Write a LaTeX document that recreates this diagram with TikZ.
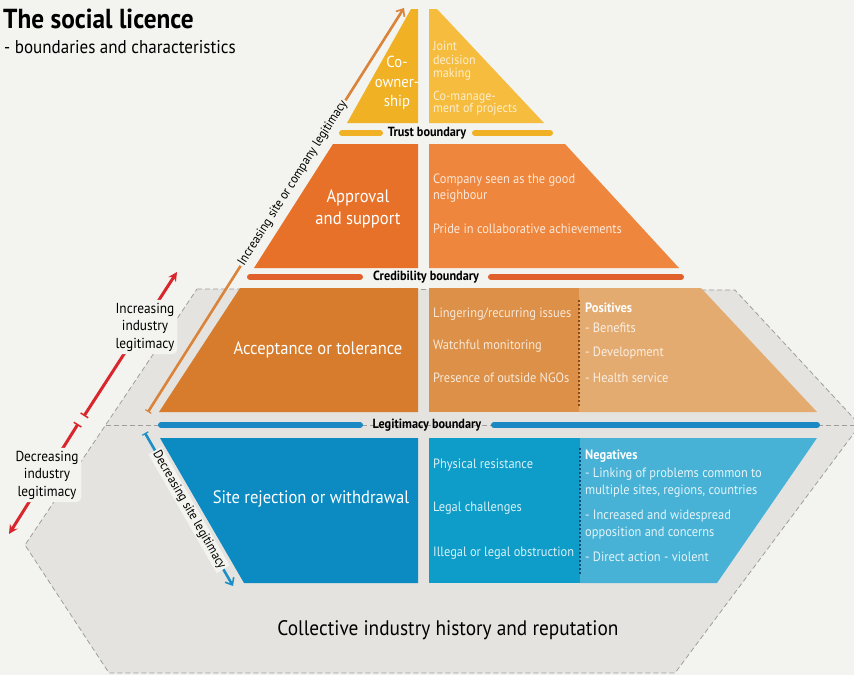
\documentclass[tikz,border=0pt]{standalone}
\usepackage{fontspec}
\setmainfont{PT Sans}[FakeStretch=0.92]
\usetikzlibrary{arrows.meta}
\definecolor{bg}{HTML}{F3F3EF}
\definecolor{hexfill}{HTML}{E4E3DF}
\definecolor{hexline}{HTML}{9E9E9A}
\definecolor{ra}{HTML}{F0B124}
\definecolor{rb}{HTML}{F5BC3E}
\definecolor{sa}{HTML}{E8712A}
\definecolor{sb}{HTML}{EE873D}
\definecolor{ta}{HTML}{D77C2C}
\definecolor{tb}{HTML}{DD9047}
\definecolor{tc}{HTML}{E4AB70}
\definecolor{ua}{HTML}{0B8BC2}
\definecolor{ub}{HTML}{0D9DC8}
\definecolor{uc}{HTML}{48B2D6}
\definecolor{credc}{HTML}{E0612C}
\definecolor{legc}{HTML}{1A88C2}
\definecolor{redarrow}{HTML}{D9262C}
\definecolor{siteup}{HTML}{D9843A}
\definecolor{sitedown}{HTML}{1C8FC6}
\definecolor{dotbrown}{HTML}{8A4A1A}
\definecolor{dotblue}{HTML}{0B4F7A}
\tikzset{
  bigl/.style={text=white, font=\fontsize{18}{22}\selectfont, align=center, inner sep=0pt},
  lbl/.style={anchor=west, inner sep=0pt, font=\fontsize{13.5}{16}\selectfont},
  lblb/.style={anchor=west, inner sep=0pt, font=\bfseries\fontsize{13.5}{16}\selectfont},
  bline/.style={line width=6pt, line cap=round},
  btext/.style={font=\bfseries\fontsize{13.3}{15}\selectfont, inner sep=0pt},
  hexdash/.style={draw=hexline, line width=0.8pt, dash pattern=on 5pt off 3pt},
  sidetext/.style={font=\fontsize{14.5}{17.5}\selectfont, align=center, fill=bg, rounded corners=6pt, inner sep=3pt},
  alongtext/.style={font=\fontsize{13}{15}\selectfont, fill=bg, inner sep=1.5pt},
  dotline/.style={line width=1.2pt, dash pattern=on 2pt off 2pt}
}
\begin{document}
\begin{tikzpicture}[x=1pt,y=-1pt]
\useasboundingbox (0,0) rectangle (854,675);
\clip (0,0) rectangle (854,675);
\fill[bg] (0,0) rectangle (854,675);

% title
\node[anchor=base west, inner sep=0pt, font=\bfseries\fontsize{27.5}{30}\selectfont] (title) at (3,28) {The social licence};
\node[anchor=base west, inner sep=0pt, font=\fontsize{18.5}{20}\selectfont] (subtitle) at (4,53) {- boundaries and characteristics};

% hexagonal base
\fill[hexfill] (197,289) -- (735,290) -- (860,425) -- (675,673) -- (109,673) -- (25,545) -- cycle;
\draw[hexdash] (197,289) -- (735,290) -- (860,425) -- (675,673) -- (109,673) -- (25,545) -- cycle;
\draw[hexdash] (106,425) -- (860,425);

% industry legitimacy arrows
\coordinate (iu0) at (84,416);
\coordinate (iu1) at (177,272);
\coordinate (id0) at (78,424);
\coordinate (id1) at (9,534);
\draw[redarrow, line width=3pt, {Bar[width=9pt,line width=1.5pt]}-{Stealth[length=9pt,width=9pt]}] (iu0) -- (iu1);
\draw[redarrow, line width=3pt, {Bar[width=9pt,line width=1.5pt]}-{Stealth[length=9pt,width=9pt]}] (id0) -- (id1);
\node[sidetext] (incind) at (145,327) {Increasing\\industry\\legitimacy};
\node[sidetext] (decind) at (47,475) {Decreasing\\industry\\legitimacy};

% site legitimacy arrows
\coordinate (su0) at (148,412);
\coordinate (su1) at (404,8);
\coordinate (sd0) at (145,433);
\coordinate (sd1) at (233,586);
\draw[siteup, line width=2.6pt, {Bar[width=7pt,line width=1.2pt]}-{Straight Barb[length=6pt,width=10pt,line width=1.6pt]}] (su0) -- (su1);
\draw[sitedown, line width=2.6pt, {Bar[width=7pt,line width=1.2pt]}-{Straight Barb[length=6pt,width=10pt,line width=1.6pt]}] (sd0) -- (sd1);
\node[alongtext, rotate=57.6] (incsite) at (293,183) {Increasing site or company legitimacy};
\node[alongtext, rotate=-60.1] (decsite) at (189,510) {Decreasing site legitimacy};

% row 1
\fill[ra] (411,9) -- (418,9) -- (418,123) -- (347,123) -- cycle;
\fill[rb] (429,9) -- (437,9) -- (544,123) -- (429,123) -- cycle;
\node[text=white, font=\fontsize{16}{19.5}\selectfont, align=center, inner sep=0pt] (coown) at (397,83) {Co-\\owner-\\ship};
\node[lbl, text=white!75!rb, align=left, font=\fontsize{13.1}{13.5}\selectfont] (joint) at (433,61) {Joint\\decision\\making};
\node[lbl, text=white!75!rb, align=left, font=\fontsize{13.1}{12.5}\selectfont] (comanage) at (433,103) {Co-manage-\\ment of projects};
\draw[bline, ra] (342,133) -- (380,133);
\draw[bline, ra] (475,133) -- (550,133);
\node[btext] (trust) at (427,133) {Trust boundary};

% row 2
\fill[sa] (333,144) -- (418,144) -- (418,268) -- (254,268) -- cycle;
\fill[sb] (429,144) -- (565,144) -- (679,268) -- (429,268) -- cycle;
\node[bigl] (approval) at (358,209) {Approval\\and support};
\node[lbl, text=white!80!sb, align=left, font=\fontsize{13.5}{16.5}\selectfont] (goodn) at (433,188) {Company seen as the good\\neighbour};
\node[lbl, text=white!80!sb] (pride) at (433,229) {Pride in collaborative achievements};
\draw[bline, credc] (250,277) -- (360,277);
\draw[bline, credc] (491,277) -- (681,277);
\node[btext] (cred) at (426,277) {Credibility boundary};

% row 3
\fill[ta] (240,288) -- (418,288) -- (418,412) -- (159,412) -- cycle;
\fill[tb] (429,288) -- (579,288) -- (579,412) -- (429,412) -- cycle;
\fill[tc] (579,288) -- (701,288) -- (817,412) -- (579,412) -- cycle;
\draw[dotline, dotbrown] (579,300) -- (579,406);
\node[bigl] (accept) at (318,350) {Acceptance or tolerance};
\node[lbl, text=white!80!tb] (linger) at (433,314) {Lingering/recurring issues};
\node[lbl, text=white!80!tb] (watch) at (433,346) {Watchful monitoring};
\node[lbl, text=white!80!tb] (ngo) at (433,378) {Presence of outside NGOs};
\node[lblb, text=white] (pos) at (585,308) {Positives};
\node[lbl, text=white!80!tc] (ben) at (585,328) {- Benefits};
\node[lbl, text=white!80!tc] (dev) at (585,353) {- Development};
\node[lbl, text=white!80!tc] (health) at (585,378) {- Health service};
\draw[bline, legc] (161,425) -- (360,425);
\draw[bline, legc] (494,425) -- (817,425);
\node[btext] (legit) at (427,425) {Legitimacy boundary};

% row 4
\fill[ua] (160,438) -- (418,438) -- (418,583) -- (244,583) -- cycle;
\fill[ub] (429,438) -- (580,438) -- (580,583) -- (429,583) -- cycle;
\fill[uc] (580,438) -- (817,438) -- (717,583) -- (580,583) -- cycle;
\draw[dotline, dotblue] (580,448) -- (580,575);
\node[bigl] (reject) at (311,499) {Site rejection or withdrawal};
\node[lbl, text=white!85!ub] (phys) at (433,465) {Physical resistance};
\node[lbl, text=white!85!ub] (legal) at (433,508) {Legal challenges};
\node[lbl, text=white!85!ub] (illegal) at (433,553) {Illegal or legal obstruction};
\node[lblb, text=white] (neg) at (585,456) {Negatives};
\node[lbl, text=white!85!uc, align=left, font=\fontsize{13.5}{17}\selectfont] (linking) at (585,483) {- Linking of problems common to\\multiple sites, regions, countries};
\node[lbl, text=white!85!uc, align=left, font=\fontsize{13.5}{17}\selectfont] (increased) at (585,525) {- Increased and widespread\\opposition and concerns};
\node[lbl, text=white!85!uc] (direct) at (585,557) {- Direct action - violent};

% base label
\node[font=\fontsize{21}{24}\selectfont, inner sep=0pt] (collective) at (448,630) {Collective industry history and reputation};
\end{tikzpicture}
\end{document}
